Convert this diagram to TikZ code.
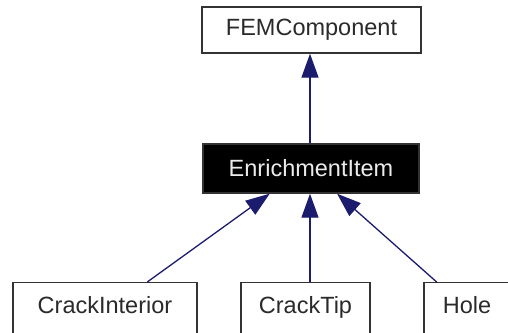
\documentclass[tikz,border=0pt]{standalone}
\usepackage{fontspec}
\setmainfont{Liberation Sans}
\usetikzlibrary{arrows.meta,calc}
\definecolor{navy}{HTML}{1C1C6E}
\definecolor{boxline}{HTML}{333333}
\definecolor{txt}{HTML}{2A2A2A}
\tikzset{
  cls/.style={draw=boxline, line width=1.4pt, inner sep=0pt, text=txt,
    font=\fontsize{23.5}{28}\selectfont},
  clsbot/.style={cls, anchor=north, text height=17pt, text depth=30pt, inner ysep=14pt},
  inh/.style={navy, line width=1.3pt,
    -{Triangle[width=17pt,length=24pt,fill=navy]}},
}
\begin{document}
\begin{tikzpicture}[x=1pt,y=-1pt]
\useasboundingbox (0,0) rectangle (508,332);
\fill[white] (0,0) rectangle (508,332);
\clip (0,0) rectangle (508,332);
\node[cls, minimum width=219pt, minimum height=46pt] (fem) at (311.5,30) {FEMComponent};
\node[cls, fill=black, text=white!92!black, minimum width=216pt, minimum height=49pt] (ei) at (311,168.5) {EnrichmentItem};
\node[clsbot, minimum width=184pt] (ci) at (105,282) {CrackInterior};
\node[clsbot, minimum width=129pt] (ct) at (305.5,282) {CrackTip};
\node[clsbot, minimum width=110pt] (hole) at (479,282) {\hspace*{-24pt}Hole};
\draw[inh] (ei.north -| fem.south) ++(-1.5,0) coordinate (eitop) (eitop) -- (eitop |- fem.south);
\draw[inh] ($(ci.north west)!0.728!(ci.north east)$) -- ($(ei.south west)!0.31!(ei.south east)$);
\draw[inh] (ct.north) ++(4.5,0) coordinate (cttop) (cttop) -- (cttop |- ei.south);
\draw[inh] ($(hole.north west)!0.12!(hole.north east)$) -- ($(ei.south west)!0.62!(ei.south east)$);
\end{tikzpicture}
\end{document}
